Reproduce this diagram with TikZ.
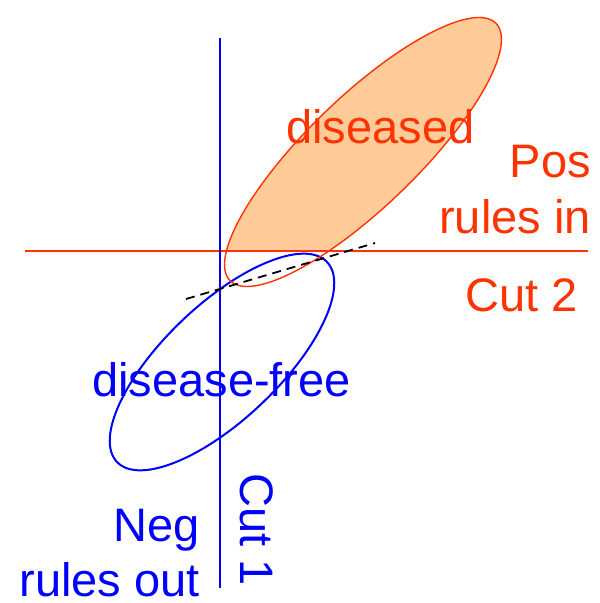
\documentclass[tikz,border=0pt]{standalone}
\usepackage{fontspec}
\setmainfont{Liberation Sans}
\definecolor{redor}{HTML}{FF3300}
\definecolor{peach}{HTML}{FFCC99}
\definecolor{bluec}{HTML}{0000FF}
\begin{document}
\begin{tikzpicture}[x=1pt,y=1pt,
  lbl/.style={inner sep=0pt,font=\fontsize{47}{56}\selectfont},
  redlbl/.style={lbl,text=redor},
  bluelbl/.style={lbl,text=bluec}]
\useasboundingbox (0,0) rectangle (600,603);
% filled part of diseased ellipse (above cut 2)
\begin{scope}
  \clip (0,352) rectangle (600,603);
  \fill[peach,rotate around={44:(363,451)}] (363,451) ellipse [x radius=185, y radius=55];
\end{scope}
\node[redlbl,anchor=base west] (dis) at (286,459) {diseased};
% disease-free ellipse
\draw[bluec,line width=2pt,rotate around={43.6:(222,241)}] (222,241) ellipse [x radius=145, y radius=57.5];
% diseased outline
\draw[redor,line width=1.4pt,rotate around={44:(363,451)}] (363,451) ellipse [x radius=185, y radius=55];
% cut lines
\coordinate (c2a) at (25,352);
\coordinate (c2b) at (588,352);
\draw[redor,line width=1.6pt] (c2a) -- (c2b);
\coordinate (c1a) at (220,565);
\coordinate (c1b) at (220,15);
\draw[bluec,line width=2pt] (c1a) -- (c1b);
% dashed tangent
\coordinate (d1) at (186,304);
\coordinate (d2) at (375,360);
\draw[black,line width=1.8pt,dash pattern=on 9pt off 6pt] (d1) -- (d2);
% labels
\node[redlbl,anchor=base east] (pos) at (591,425) {Pos};
\node[redlbl,anchor=base east] (rin) at (591,369) {rules in};
\node[redlbl,anchor=base west] (cut2) at (465,291) {Cut 2};
\node[bluelbl,anchor=base west] (dfree) at (92,206) {disease-free};
\node[bluelbl,anchor=base east] (neg) at (200,61) {Neg};
\node[bluelbl,anchor=base east] (rout) at (200,6) {rules out};
\node[bluelbl,anchor=base west,rotate=-90] (cut1) at (240,130) {Cut 1};
\end{tikzpicture}
\end{document}
